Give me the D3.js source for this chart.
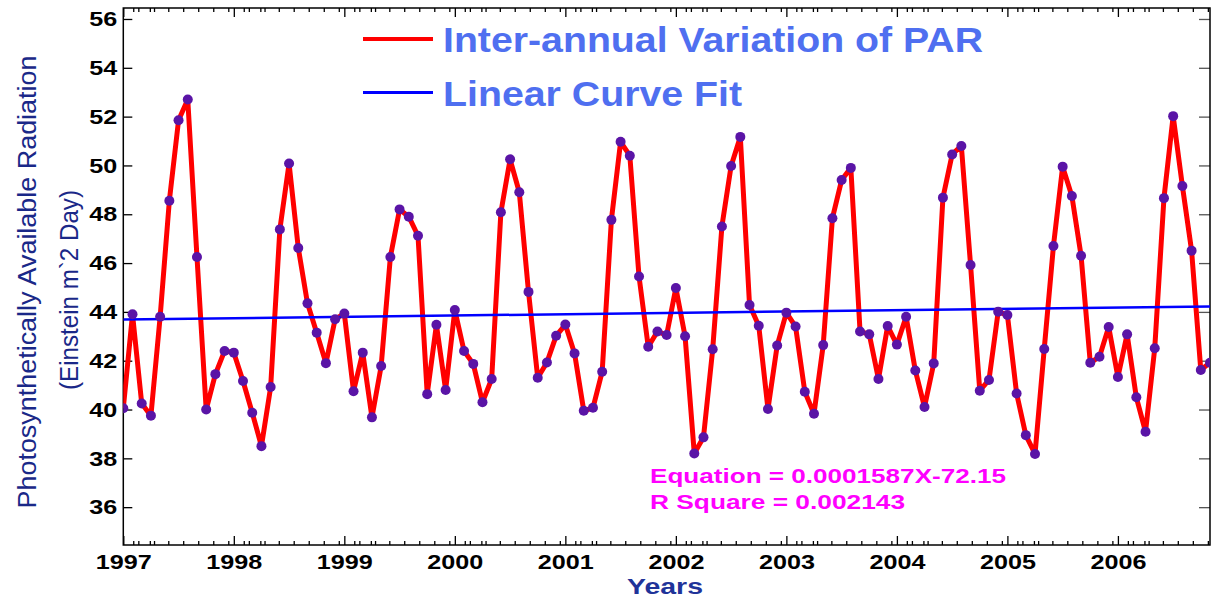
<!DOCTYPE html>
<html>
<head>
<meta charset="utf-8">
<script src="https://cdn.jsdelivr.net/npm/d3@7"></script>
<style>
  body { margin: 0; background: #fff; }
  svg { display: block; font-family: "Liberation Sans", Arial, sans-serif; }
</style>
</head>
<body>
<svg id="chart"></svg>
<script>
const svgWidth = 1212;
const svgHeight = 598;

// monthly PAR, Jan 1997 .. Nov 2006
const startYear = 1997;
const parValues = [
  40.05, 43.9, 40.25, 39.75, 43.8, 48.55, 51.85, 52.7, 46.25, 40.0, 41.45, 42.4,
  42.33, 41.17, 39.87, 38.5, 40.92, 47.38, 50.08, 46.62, 44.35, 43.15, 41.9, 43.7,
  43.93, 40.75, 42.33, 39.68, 41.78, 46.25, 48.2, 47.9, 47.12, 40.63, 43.47, 40.8,
  44.08, 42.4, 41.87, 40.3, 41.25, 48.08, 50.25, 48.9, 44.82, 41.3, 41.93, 43.02,
  43.48, 42.3, 39.95, 40.07, 41.55, 47.77, 50.97, 50.4, 45.45, 42.57, 43.2, 43.05,
  44.98, 43.0, 38.2, 38.86, 42.47, 47.5, 49.98, 51.17, 44.28, 43.43, 40.02, 42.62,
  43.97, 43.4, 40.73, 39.83, 42.64, 47.84, 49.4, 49.9, 43.2, 43.08, 41.25, 43.42,
  42.66, 43.8, 41.6, 40.1, 41.89, 48.68, 50.45, 50.8, 45.92, 40.77, 41.21, 44.01,
  43.87, 40.66, 38.95, 38.18, 42.48, 46.7, 49.95, 48.75, 46.3, 41.92, 42.16, 43.38,
  41.33, 43.08, 40.5, 39.09, 42.51, 48.66, 52.02, 49.16, 46.51, 41.62, 41.92
];

// linear fit end points
const fitYears = [1997, 2006.8333];
const fitValues = [43.69, 44.22];

const yearTicks = [1997, 1998, 1999, 2000, 2001, 2002, 2003, 2004, 2005, 2006];
const yTicks = [36, 38, 40, 42, 44, 46, 48, 50, 52, 54, 56];
const minorOffsets = [0.09, 0.136, 0.24, 0.278, 0.407, 0.542, 0.678, 0.814, 0.95];

const legendLabels = ["Inter-annual Variation of PAR", "Linear Curve Fit"];
const equationText = "Equation = 0.0001587X-72.15";
const rSquareText = "R Square = 0.002143";

const parData = parValues.map((v, i) => ({ t: startYear + i / 12, v: v }));

let minorTicks = [];
yearTicks.forEach(y => minorOffsets.forEach(o => { if (y + o < 2006.83) minorTicks.push(y + o); }));

const svg = d3.select("#chart")
  .attr("width", svgWidth)
  .attr("height", svgHeight);

const xScale = d3.scaleLinear()
  .domain([1997, 2006.8333])
  .range([123.3, 1210]);
const yScale = d3.scaleLinear()
  .domain([34.45, 56.45])
  .range([545, 8]);

const plotTop = yScale.range()[1], plotBottom = yScale.range()[0];
const plotLeft = xScale.range()[0], plotRight = xScale.range()[1];

svg.append("clipPath").attr("id", "clip")
  .append("rect")
  .attr("x", plotLeft).attr("y", plotTop)
  .attr("width", plotRight - plotLeft).attr("height", plotBottom - plotTop);

// Axes
const tickFont = "bold 21px 'Liberation Sans', Arial, sans-serif";

svg.append("g")
  .attr("transform", `translate(0, ${plotBottom})`)
  .call(d3.axisBottom(xScale).tickValues(minorTicks).tickSize(-4).tickFormat(""))
  .call(g => g.select(".domain").remove());
svg.append("g")
  .attr("transform", `translate(0, ${plotTop})`)
  .call(d3.axisTop(xScale).tickValues(minorTicks).tickSize(-4).tickFormat(""))
  .call(g => g.select(".domain").remove());

svg.append("g")
  .attr("transform", `translate(0, ${plotBottom})`)
  .call(d3.axisBottom(xScale).tickValues(yearTicks).tickSize(-9).tickPadding(9).tickFormat(d3.format("d")))
  .call(g => g.select(".domain").remove())
  .call(g => g.selectAll("text")
    .style("font", tickFont).attr("fill", "#000")
    .attr("textLength", 56).attr("lengthAdjust", "spacingAndGlyphs"));
svg.append("g")
  .attr("transform", `translate(0, ${plotTop})`)
  .call(d3.axisTop(xScale).tickValues(yearTicks).tickSize(-9).tickFormat(""))
  .call(g => g.select(".domain").remove());

svg.append("g")
  .attr("transform", `translate(${plotLeft}, 0)`)
  .call(d3.axisLeft(yScale).tickValues(yTicks).tickSize(-9).tickPadding(6))
  .call(g => g.select(".domain").remove())
  .call(g => g.selectAll("text")
    .style("font", tickFont).attr("fill", "#000")
    .attr("textLength", 28).attr("lengthAdjust", "spacingAndGlyphs"));
svg.append("g")
  .attr("transform", `translate(${plotRight}, 0)`)
  .call(d3.axisRight(yScale).tickValues(yTicks).tickSize(-11).tickFormat(""))
  .call(g => g.select(".domain").remove())
  .call(g => g.selectAll("line").attr("stroke", "#555"));

svg.selectAll(".tick line").attr("stroke-width", 1.3);

// frame
svg.append("rect")
  .attr("x", plotLeft).attr("y", plotTop)
  .attr("width", plotRight - plotLeft).attr("height", plotBottom - plotTop)
  .attr("fill", "none").attr("stroke", "#000").attr("stroke-width", 1.5);

// Data
const plotArea = svg.append("g").attr("clip-path", "url(#clip)");

const line = d3.line()
  .x(d => xScale(d.t))
  .y(d => yScale(d.v));

plotArea.append("path")
  .datum(parData)
  .attr("d", line)
  .attr("fill", "none")
  .attr("stroke", "#ff0000")
  .attr("stroke-width", 5)
  .attr("stroke-linejoin", "round");

plotArea.append("path")
  .datum(fitYears.map((t, i) => ({ t: t, v: fitValues[i] })))
  .attr("d", line)
  .attr("fill", "none")
  .attr("stroke", "#0000ff")
  .attr("stroke-width", 2.5);

plotArea.selectAll("circle")
  .data(parData)
  .enter()
  .append("circle")
    .attr("cx", d => xScale(d.t))
    .attr("cy", d => yScale(d.v))
    .attr("r", 5)
    .attr("fill", "#5a14a6");

// Legend
const legendColors = ["#ff0000", "#0000ff"];
const legendWidths = [4, 3];
const legendLengths = [540, 299];
const legendY = [39, 92.5];
legendLabels.forEach((label, i) => {
  svg.append("line")
    .attr("x1", 363).attr("x2", 433)
    .attr("y1", legendY[i]).attr("y2", legendY[i])
    .attr("stroke", legendColors[i])
    .attr("stroke-width", legendWidths[i]);
  svg.append("text")
    .text(label)
    .attr("x", 443)
    .attr("y", legendY[i] + 13)
    .attr("fill", "#4f6ff0")
    .attr("textLength", legendLengths[i])
    .attr("lengthAdjust", "spacingAndGlyphs")
    .style("font", "bold 35px 'Liberation Sans', Arial, sans-serif");
});

// Fit annotation
svg.append("text")
  .text(equationText)
  .attr("x", 650).attr("y", 483)
  .attr("fill", "#ff00ff")
  .attr("textLength", 356).attr("lengthAdjust", "spacingAndGlyphs")
  .style("font", "bold 21px 'Liberation Sans', Arial, sans-serif");
svg.append("text")
  .text(rSquareText)
  .attr("x", 650).attr("y", 509)
  .attr("fill", "#ff00ff")
  .attr("textLength", 255).attr("lengthAdjust", "spacingAndGlyphs")
  .style("font", "bold 21px 'Liberation Sans', Arial, sans-serif");

// Axis labels
svg.append("text")
  .text("Years")
  .attr("x", 665).attr("y", 594)
  .attr("text-anchor", "middle")
  .attr("fill", "#1f3399")
  .attr("textLength", 76).attr("lengthAdjust", "spacingAndGlyphs")
  .style("font", "bold 22px 'Liberation Sans', Arial, sans-serif");

svg.append("text")
  .text("Photosynthetically Available Radiation")
  .attr("transform", "rotate(-90)")
  .attr("x", -282).attr("y", 36)
  .attr("text-anchor", "middle")
  .attr("fill", "#1a2888")
  .attr("textLength", 453).attr("lengthAdjust", "spacingAndGlyphs")
  .style("font", "25px 'Liberation Sans', Arial, sans-serif");
svg.append("text")
  .text("(Einstein m`2 Day)")
  .attr("transform", "rotate(-90)")
  .attr("x", -290).attr("y", 78)
  .attr("text-anchor", "middle")
  .attr("fill", "#1a2888")
  .attr("textLength", 200).attr("lengthAdjust", "spacingAndGlyphs")
  .style("font", "25px 'Liberation Sans', Arial, sans-serif");
</script>
</body>
</html>
